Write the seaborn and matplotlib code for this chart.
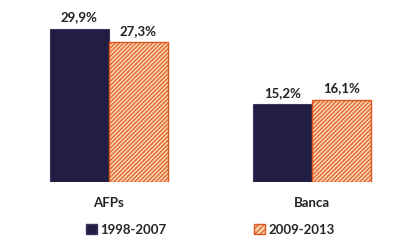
import pandas as pd
import seaborn as sns
import matplotlib.pyplot as plt
from matplotlib.patches import Patch

# data
grupos = ["AFPs", "Banca"]
periodos = ["1998-2007", "2009-2013"]
val_1998_2007 = [29.9, 15.2]
val_2009_2013 = [27.3, 16.1]

df = pd.DataFrame({
    "grupo": grupos * 2,
    "periodo": [periodos[0]] * 2 + [periodos[1]] * 2,
    "valor": val_1998_2007 + val_2009_2013,
})

sns.set_style("white")
plt.rcParams["font.family"] = ["Lato", "DejaVu Sans"]
plt.rcParams["hatch.linewidth"] = 0.8

navy = "#221d42"
orange_edge = "#e0561c"
orange_fill = "#f9d2ae"

fig = plt.figure(figsize=(4.11, 2.44), dpi=100)
ax = fig.add_axes([5 / 411, 62 / 244, 403 / 411, 174 / 244])

sns.barplot(data=df, x="grupo", y="valor", hue="periodo", order=grupos,
            hue_order=periodos, palette=[navy, orange_fill], width=0.58,
            saturation=1, ax=ax, legend=False)

for p in ax.containers[0].patches:
    p.set_edgecolor("#3a3560")
    p.set_linewidth(0.8)
for p in ax.containers[1].patches:
    p.set_hatch("////////")
    p.set_edgecolor(orange_edge)
    p.set_linewidth(1.0)

for cont in ax.containers:
    ax.bar_label(cont, labels=[f"{v:.1f}%".replace(".", ",") for v in cont.datavalues],
                 padding=4, fontsize=9.5, fontweight="bold", color="#222222")

ax.set_xlim(-0.51, 1.47)
ax.set_ylim(0, 34)
ax.axhline(0, color="#aaaaaa", lw=0.8, ls=(0, (2, 2)), zorder=0)
sns.despine(ax=ax, left=True, bottom=True)
ax.set_yticks([])
ax.set_xlabel("")
ax.set_ylabel("")
ax.set_xticks(range(len(grupos)))
ax.set_xticklabels(grupos, fontsize=9.5, fontweight="bold", color="#222222")
ax.tick_params(axis="x", length=0, pad=11)

handles = [Patch(facecolor=navy, edgecolor="#3a3560"),
           Patch(facecolor=orange_fill, edgecolor=orange_edge, hatch="//////")]
fig.legend(handles, periodos, loc="center", bbox_to_anchor=(0.512, 14 / 244),
           ncol=2, frameon=False, handlelength=0.8, handleheight=0.8,
           handletextpad=0.3, columnspacing=6.6,
           prop={"size": 9.5, "weight": "bold"})

fig.savefig("out.png", dpi=100)
